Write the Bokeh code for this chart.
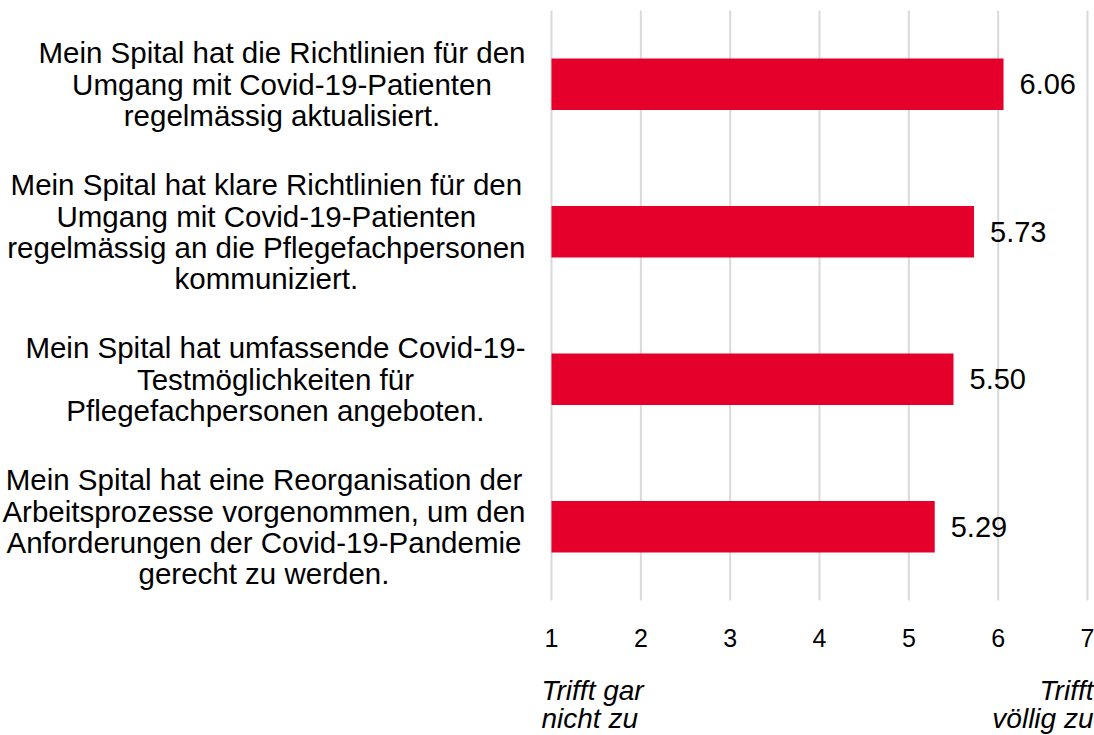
from bokeh.plotting import figure
from bokeh.models import Range1d
from bokeh.embed import file_html
from bokeh.resources import INLINE
from bokeh.core.properties import value

categories = [
    "Mein Spital hat die Richtlinien für den\nUmgang mit Covid-19-Patienten\nregelmässig aktualisiert.",
    "Mein Spital hat klare Richtlinien für den\nUmgang mit Covid-19-Patienten\nregelmässig an die Pflegefachpersonen\nkommuniziert.",
    "Mein Spital hat umfassende Covid-19-\nTestmöglichkeiten für\nPflegefachpersonen angeboten.",
    "Mein Spital hat eine Reorganisation der\nArbeitsprozesse vorgenommen, um den\nAnforderungen der Covid-19-Pandemie\ngerecht zu werden.",
]
values = [6.06, 5.73, 5.50, 5.29]
ticks = [1, 2, 3, 4, 5, 6, 7]
low_label = "Trifft gar\nnicht zu"
high_label = "Trifft\nvöllig zu"

FONT = "Liberation Sans"
RED = "#E4002B"

W, H = 1094, 735
# pixel layout of the value axis
left_px, right_px = 551, 1087
top_px, bottom_px = 10, 600
n = len(categories)
ppx = (ticks[-1] - ticks[0]) / (right_px - left_px)
ppy = n / (bottom_px - top_px)
x_start = ticks[0] - left_px * ppx
x_end = ticks[-1] + (W - right_px) * ppx
y_start = -(H - bottom_px) * ppy
y_end = n + top_px * ppy

ys = [n - i - 0.5 for i in range(n)]

p = figure(width=W, height=H, x_range=Range1d(x_start, x_end), y_range=Range1d(y_start, y_end),
           output_backend="svg", toolbar_location=None,
           min_border=0, min_border_left=0, min_border_right=0,
           min_border_top=0, min_border_bottom=0)
p.outline_line_color = None
p.background_fill_color = "white"
p.border_fill_color = "white"
p.xaxis.visible = False
p.yaxis.visible = False
p.xgrid.visible = False
p.ygrid.visible = False

# grid lines
p.segment(x0=ticks, y0=[0] * len(ticks), x1=ticks, y1=[n] * len(ticks),
          line_color="#d9d9d9", line_width=2)

# bars
p.hbar(y=ys, left=ticks[0], right=values, height=0.35, fill_color=RED, line_color=None)

# value labels
p.text(x=values, y=ys, text=[f"{v:.2f}" for v in values], x_offset=16,
       text_baseline="middle", text_align="left",
       text_font=value(FONT), text_font_size="29px", text_color="black")

# tick labels
p.text(x=ticks, y=[0] * len(ticks), text=[str(t) for t in ticks], y_offset=37,
       text_baseline="middle", text_align="center",
       text_font=value(FONT), text_font_size="25px", text_color="black")

# category labels
p.text(x=[ticks[0]] * n, y=ys, text=categories, x_offset=-26,
       anchor="center_right", text_align="center", text_baseline="middle",
       text_font=value(FONT), text_font_size="29.5px", text_line_height=0.95,
       text_color="black")

# scale end labels
p.text(x=[ticks[0]], y=[0], text=[low_label], x_offset=-10, y_offset=74,
       text_align="left", text_baseline="top",
       text_font=value(FONT), text_font_size="28px", text_font_style="italic",
       text_line_height=0.93, text_color="black")
p.text(x=[ticks[-1]], y=[0], text=[high_label], x_offset=6, y_offset=74,
       text_align="right", text_baseline="top",
       text_font=value(FONT), text_font_size="28px", text_font_style="italic",
       text_line_height=0.93, text_color="black")

open("out.html", "w").write(file_html(p, INLINE))
